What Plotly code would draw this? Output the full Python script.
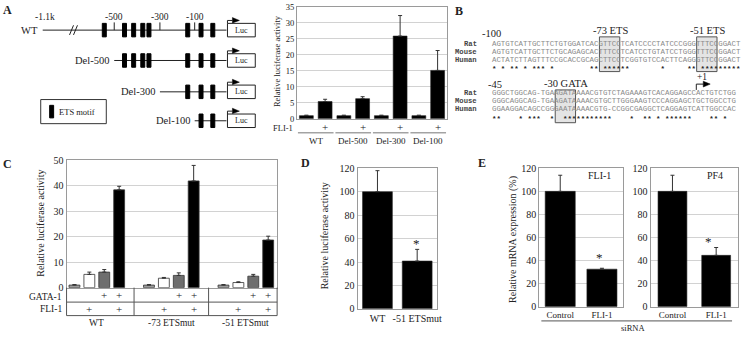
import numpy as np
import plotly.graph_objects as go

W, H = 746, 338
def X(p): return p / W
def Y(p): return 1 - p / H

SERIF = "Liberation Serif"
MONO = "Liberation Mono"
TXT = "#222222"
GRID = "#d2d2d2"
FRAME = "#9a9a9a"

# ---------------- data ----------------
# Panel A (bar chart)
A_groups = ["WT", "Del-500", "Del-300", "Del-100"]
A_ctrl = [1.0, 1.0, 1.0, 1.0]
A_ctrl_err = [0.15, 0.15, 0.15, 0.15]
A_fli = [5.4, 6.3, 25.8, 15.1]
A_fli_err = [0.7, 0.6, 6.4, 6.2]
A_yticks = [0, 5, 10, 15, 20, 25, 30, 35]
A_fli_flag = "+"

# Panel A (schematic)
constructs = ["WT", "Del-500", "Del-300", "Del-100"]
construct_start = [-1100, -500, -300, -100]
ets_motifs = [-550, -455, -415, -375, -348, -140, -80, -43]
position_ticks = [-500, -300, -100]
position_tick_labels = ["-500", "-300", "-100"]

# Panel B (alignment)
species = ["Rat", "Mouse", "Human"]
seq_top = ["AGTGTCATTGCTTCTGTGGATCACGTTCCTCATCCCCTATCCCGGGTTTCCGGACT",
           "AGTGTCATTGCTTCTGCAGAGCACTTTCCTCATCCTGTATCCTGGGTTTCCGGACT",
           "ACTATCTTAGTTTCCGCACCGCAGCTTCCTCGGTGTCCACTTCAGGGTTCCGGACT"]
stars_top = "* * ** * *** *" + " " * 8 + "**" + " " + "******" + " " * 7 + "*" + " " * 5 + "**" + " " + "*" * 9
seq_bot = ["GGGCTGGCAG-TGAAGATAAAACGTGTCTAGAAAGTCACAGGAGCCACTGTCTGG",
           "GGGCAGGCAG-TGAAGATAAAACGTGCTTGGGAAGTCCCAGGAGCTGCTGGCCTG",
           "GGAAGGACAGCCGGGAATAAAACGTG-CCGGCGAGGCTCAGGAGTCATTGGCCAC"]
stars_bot = "**    * ***  *  ***********    *  ** * ******    ** *"
top_boxes = [("-73 ETS", 25, 4), ("-51 ETS", 47, 4)]
bot_boxes = [("-30 GATA", 15, 4)]

# Panel C
C_groups = ["WT", "-73 ETSmut", "-51 ETSmut"]
C_none = [1.0, 1.0, 1.0]
C_none_err = [0.2, 0.2, 0.2]
C_fli = [5.2, 3.7, 2.0]
C_fli_err = [0.9, 0.3, 0.3]
C_gata = [6.1, 4.8, 4.5]
C_gata_err = [1.0, 1.0, 0.7]
C_both = [38.4, 41.9, 18.7]
C_both_err = [1.4, 6.1, 1.5]
C_gata_flags = ["", "", "+", "+"]
C_fli_flags = ["", "+", "", "+"]

# Panel D
D_labels = ["WT", "-51 ETSmut"]
D_values = [100, 40.8]
D_err = [18, 10]

# Panel E
E_labels = ["Control", "FLI-1"]
E_fli = [100, 32.5]
E_fli_err = [14, 0.8]
E_pf4 = [100, 44.5]
E_pf4_err = [14, 6.8]

# ---------------- figure ----------------
fig = go.Figure()
shapes = []
ann = []

def err(arr):
    return dict(type="data", array=arr, arrayminus=[0] * len(arr), symmetric=False,
                color="#333", thickness=1, width=2)

def text(x, y, s, size=10, anchor="center", color=TXT, family=SERIF, bold=False, angle=0, xref="paper"):
    if bold:
        s = "<b>" + s + "</b>"
    ann.append(dict(x=x if xref != "paper" else X(x), y=Y(y), xref=xref, yref="paper", text=s,
                    showarrow=False, xanchor=anchor, yanchor="middle", textangle=angle,
                    font=dict(family=family, size=size, color=color), borderpad=0))

def line(x0, y0, x1, y1, color="#222", width=1, xref="paper"):
    shapes.append(dict(type="line", xref=xref, yref="paper",
                       x0=x0 if xref != "paper" else X(x0), x1=x1 if xref != "paper" else X(x1),
                       y0=Y(y0), y1=Y(y1), line=dict(color=color, width=width)))

def rect(x0, y0, x1, y1, fill="black", color="black", width=1):
    shapes.append(dict(type="rect", xref="paper", yref="paper", x0=X(x0), x1=X(x1),
                       y0=Y(y1), y1=Y(y0), fillcolor=fill, line=dict(color=color, width=width)))

def path(pts, fill="black"):
    d = "M " + " L ".join(f"{X(a)},{Y(b)}" for a, b in pts) + " Z"
    shapes.append(dict(type="path", xref="paper", yref="paper", path=d, fillcolor=fill,
                       line=dict(color=fill, width=0.5)))

# ----- Panel A bar chart -----
nA = len(A_groups)
xa_ctrl = [2 * g for g in range(nA)]
xa_fli = [2 * g + 1 for g in range(nA)]
fig.add_trace(go.Bar(x=xa_ctrl, y=A_ctrl, error_y=err(A_ctrl_err), width=0.74,
                     marker=dict(color="black", line=dict(color="#222", width=0.6)), xaxis="x", yaxis="y"))
fig.add_trace(go.Bar(x=xa_fli, y=A_fli, error_y=err(A_fli_err), width=0.74,
                     marker=dict(color="black", line=dict(color="#222", width=0.6)), xaxis="x", yaxis="y"))
text(296, 126.5, "FLI-1", 8.5, "right")
for g, name in enumerate(A_groups):
    ann.append(dict(x=xa_fli[g], y=Y(125.5), xref="x", yref="paper", text=A_fli_flag, showarrow=False,
                    font=dict(family=SERIF, size=11, color=TXT), yanchor="middle"))
    line(2 * g - 0.45, 131.5, 2 * g + 1.45, 131.5, color="#777", width=1, xref="x")
    ann.append(dict(x=2 * g + 0.5, y=Y(139.5), xref="x", yref="paper", text=name, showarrow=False,
                    font=dict(family=SERIF, size=9, color=TXT), yanchor="middle"))
text(279, 57, "Relative luciferase activity", 8.5, angle=-90)

# ----- Panel A schematic -----
anc_bp = [-1100, -600, -500, -300, -100, 0]
anc_px = [43, 95, 115, 161, 196, 228]
def bp2px(b): return float(np.interp(b, anc_bp, anc_px))
row_y = [25, 56.5, 89, 119]
text(8, 4, "A", 12, bold=True)
for i, name in enumerate(constructs):
    yy = row_y[i]
    x0 = bp2px(construct_start[i])
    x1 = bp2px(0)
    line(x0, yy, x1, yy, width=1)
    text(x0 - 4, yy, name, 10.5, "right")
    for m in ets_motifs:
        if m > construct_start[i]:
            mx = bp2px(m)
            rect(mx - 2, yy - 7, mx + 2, yy + 7)
    rect(x1 + 1, yy - 7, x1 + 29, yy + 7, fill="white", color="#222")
    text(x1 + 15, yy, "Luc", 8)
    line(x1 + 1, yy - 7, x1 + 1, yy - 10)
    line(x1 + 1, yy - 10, x1 + 6, yy - 10)
    path([(x1 + 6, yy - 13), (x1 + 13, yy - 10), (x1 + 6, yy - 7.5)])
# WT decorations
text(45, 11, "-1.1k", 9.5)
line(70, 30, 74, 20)
line(74, 30, 78, 20)
for b, lab in zip(position_ticks, position_tick_labels):
    px = bp2px(b)
    line(px, row_y[0], px, row_y[0] - 8)
    text(px, 11, lab, 9.5)
rect(41, 97, 107, 122, fill="white", color="#333")
rect(50, 103, 54, 116)
text(58, 110, "ETS motif", 8.5, "left")

# ----- Panel B -----
text(462, 5, "B", 12, bold=True)
S0, CW = 494, 4.45
top_rows = [39, 47.5, 56]
bot_rows = [90, 98.5, 107]
for (lab, i0, n) in top_boxes:
    rect(S0 + (i0 - 0.4) * CW, 32, S0 + (i0 + n + 0.2) * CW, 68, fill="#e4e4e4", color="#555")
    text(S0 + (i0 + n / 2) * CW, 25, lab, 10.5)
for (lab, i0, n) in bot_boxes:
    rect(S0 + (i0 - 0.4) * CW, 87, S0 + (i0 + n + 0.2) * CW, 121, fill="#e4e4e4", color="#555")
    text(S0 + (i0 + n / 2) * CW, 80, lab, 10.5)
text(495, 28, "-100", 10.5)
text(498, 81, "-45", 10.5)
text(707, 74, "+1", 9.5)
line(701, 87, 701, 81)
line(701, 81, 708, 81)
path([(708, 78), (715, 81), (708, 84)])
for k, sp in enumerate(species):
    text(481, top_rows[k], sp, 7.2, "right", color="#444", family=MONO, bold=True)
    text(S0, top_rows[k], seq_top[k], 7.4, "left", color="#8a8a8a", family=MONO)
    text(481, bot_rows[k], sp, 7.2, "right", color="#444", family=MONO, bold=True)
    text(S0, bot_rows[k], seq_bot[k], 7.4, "left", color="#8a8a8a", family=MONO)
text(S0, 65.5, "<b>" + stars_top.replace(" ", "&nbsp;") + "</b>", 7.4, "left", color="#222", family=MONO)
text(S0, 117.5, "<b>" + stars_bot.replace(" ", "&nbsp;") + "</b>", 7.4, "left", color="#222", family=MONO)

# ----- Panel C -----
text(8, 164, "C", 12, bold=True)
C_series = [(C_none, C_none_err, "#9c9c9c"), (C_fli, C_fli_err, "white"),
            (C_gata, C_gata_err, "#6e6e6e"), (C_both, C_both_err, "black")]
for i, (vals, e, col) in enumerate(C_series):
    xs = [g * 5 + i for g in range(len(C_groups))]
    fig.add_trace(go.Bar(x=xs, y=vals, error_y=err(e), width=0.73,
                         marker=dict(color=col, line=dict(color="#333", width=0.8)), xaxis="x2", yaxis="y2"))
    for g in range(len(C_groups)):
        for flags, yy in ((C_gata_flags, 300), (C_fli_flags, 314)):
            if flags[i]:
                ann.append(dict(x=g * 5 + i, y=Y(yy), xref="x2", yref="paper", text=flags[i],
                                showarrow=False, font=dict(family=SERIF, size=11, color=TXT), yanchor="middle"))
line(67, 307, 279, 307, color="#555")
line(67, 321, 279, 321, color="#555")
line(67, 292, 67, 321, color="#555")
line(279, 292, 279, 321, color="#555")
for g in range(len(C_groups) - 1):
    line(g * 5 + 4, 292, g * 5 + 4, 321, color="#555", xref="x2")
for g, name in enumerate(C_groups):
    ann.append(dict(x=g * 5 + 1.5, y=Y(329), xref="x2", yref="paper", text=name, showarrow=False,
                    font=dict(family=SERIF, size=9.5, color=TXT), yanchor="middle"))
text(63, 301.5, "GATA-1", 9.5, "right")
text(63, 314, "FLI-1", 9.5, "right")
text(40, 225, "Relative luciferase activity", 10, angle=-90)

# ----- Panel D -----
text(308, 163, "D", 12, bold=True)
fig.add_trace(go.Bar(x=D_labels, y=D_values, error_y=err(D_err), width=0.75,
                     marker=dict(color="black", line=dict(color="#222", width=0.6)), xaxis="x3", yaxis="y3"))
text(419, 246, "*", 13)
text(327, 238, "Relative luciferase activity", 10, angle=-90)

# ----- Panel E -----
text(485, 163, "E", 12, bold=True)
fig.add_trace(go.Bar(x=E_labels, y=E_fli, error_y=err(E_fli_err), width=0.72,
                     marker=dict(color="black", line=dict(color="#222", width=0.6)), xaxis="x4", yaxis="y4"))
fig.add_trace(go.Bar(x=E_labels, y=E_pf4, error_y=err(E_pf4_err), width=0.66,
                     marker=dict(color="black", line=dict(color="#222", width=0.6)), xaxis="x5", yaxis="y5"))
text(604, 261, "*", 13)
text(713, 244, "*", 13)
text(604, 176, "FLI-1", 10)
text(720, 176, "PF4", 10)
line(545, 326.5, 737, 326.5, color="#555")
text(637, 334, "siRNA", 8.5)
text(517, 242, "Relative mRNA expression (%)", 10, angle=-90)

# ---------------- axes ----------------
def xax(dom, **kw):
    d = dict(domain=[X(dom[0]), X(dom[1])], showgrid=False, zeroline=False, showline=True, mirror=True,
             linecolor=FRAME, linewidth=1, ticks="", fixedrange=True,
             tickfont=dict(family=SERIF, size=9.5, color=TXT))
    d.update(kw)
    return d

def yax(dom, rng, dtick, size=10, **kw):
    d = dict(domain=[Y(dom[0]), Y(dom[1])], range=rng, dtick=dtick, tick0=0, showgrid=True, gridcolor=GRID,
             gridwidth=1, zeroline=False, showline=True, mirror=True, linecolor=FRAME, linewidth=1,
             ticks="", tickfont=dict(family=SERIF, size=size, color=TXT), fixedrange=True)
    d.update(kw)
    return d

fig.update_layout(
    width=W, height=H, autosize=False, margin=dict(l=0, r=0, t=0, b=0, pad=0),
    paper_bgcolor="white", plot_bgcolor="white", showlegend=False, barmode="overlay",
    xaxis=xax((299, 450), range=[-0.5, 7.5], showticklabels=False),
    yaxis=yax((117, 0.6), [0, 35], 5, size=8.5, anchor="x", tickvals=A_yticks),
    xaxis2=xax((67, 279), range=[-0.53, 13.6], showticklabels=False, anchor="y2"),
    yaxis2=yax((292, 160), [0, 50], 10, anchor="x2"),
    xaxis3=xax((360, 440), anchor="y3", type="category", tickfont=dict(family=SERIF, size=10, color=TXT)),
    yaxis3=yax((314, 168.3), [0, 120], 20, anchor="x3"),
    xaxis4=xax((543, 627), anchor="y4", type="category", tickfont=dict(family=SERIF, size=9, color=TXT)),
    yaxis4=yax((311.7, 168.3), [0, 120], 20, anchor="x4"),
    xaxis5=xax((655, 743), anchor="y5", type="category", tickfont=dict(family=SERIF, size=9, color=TXT)),
    yaxis5=yax((311.7, 168.3), [0, 120], 20, anchor="x5"),
    shapes=shapes, annotations=ann,
)

fig.write_html("out.html")
